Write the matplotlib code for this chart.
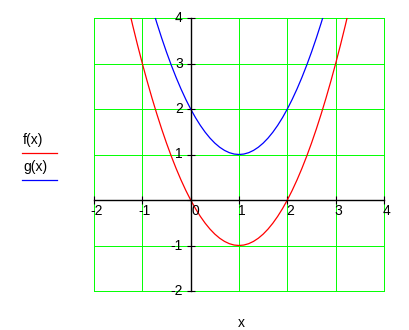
import matplotlib
matplotlib.use("Agg")
import matplotlib.pyplot as plt
from matplotlib.transforms import offset_copy

plt.rcParams['font.family'] = ['Liberation Sans', 'DejaVu Sans']
plt.rcParams['axes.unicode_minus'] = False

# sampled values of f(x)
xf = [-1.3, -1.2, -1.1, -1.0, -0.9, -0.8, -0.7, -0.6, -0.5, -0.4, -0.3, -0.2, -0.1,
      0.0, 0.1, 0.2, 0.3, 0.4, 0.5, 0.6, 0.7, 0.8, 0.9, 1.0, 1.1, 1.2, 1.3, 1.4,
      1.5, 1.6, 1.7, 1.8, 1.9, 2.0, 2.1, 2.2, 2.3, 2.4, 2.5, 2.6, 2.7, 2.8, 2.9,
      3.0, 3.1, 3.2, 3.3]
yf = [4.29, 3.84, 3.41, 3.0, 2.61, 2.24, 1.89, 1.56, 1.25, 0.96, 0.69, 0.44, 0.21,
      0.0, -0.19, -0.36, -0.51, -0.64, -0.75, -0.84, -0.91, -0.96, -0.99, -1.0,
      -0.99, -0.96, -0.91, -0.84, -0.75, -0.64, -0.51, -0.36, -0.19, 0.0, 0.21,
      0.44, 0.69, 0.96, 1.25, 1.56, 1.89, 2.24, 2.61, 3.0, 3.41, 3.84, 4.29]

# sampled values of g(x)
xg = [-0.8, -0.7, -0.6, -0.5, -0.4, -0.3, -0.2, -0.1, 0.0, 0.1, 0.2, 0.3, 0.4,
      0.5, 0.6, 0.7, 0.8, 0.9, 1.0, 1.1, 1.2, 1.3, 1.4, 1.5, 1.6, 1.7, 1.8, 1.9,
      2.0, 2.1, 2.2, 2.3, 2.4, 2.5, 2.6, 2.7, 2.8]
yg = [4.24, 3.89, 3.56, 3.25, 2.96, 2.69, 2.44, 2.21, 2.0, 1.81, 1.64, 1.49, 1.36,
      1.25, 1.16, 1.09, 1.04, 1.01, 1.0, 1.01, 1.04, 1.09, 1.16, 1.25, 1.36, 1.49,
      1.64, 1.81, 2.0, 2.21, 2.44, 2.69, 2.96, 3.25, 3.56, 3.89, 4.24]

xticks = [-2, -1, 0, 1, 2, 3, 4]
yticks = [-2, -1, 1, 2, 3, 4]

fig = plt.figure(figsize=(4.1, 3.3), dpi=100)
ax = fig.add_axes([94 / 410, 1 - 291 / 330, 290 / 410, 273 / 330])
ax.set_xlim(-2, 4)
ax.set_ylim(-2, 4)

green = '#00ff00'
for v in range(-2, 5):
    ax.axvline(v, color=green, lw=0.7, clip_on=False, zorder=1)
    ax.axhline(v, color=green, lw=0.7, clip_on=False, zorder=1)

for s in ['top', 'right']:
    ax.spines[s].set_visible(False)
ax.spines['left'].set_position(('data', 0))
ax.spines['bottom'].set_position(('data', 0))
ax.spines['left'].set_zorder(3)
ax.spines['bottom'].set_zorder(3)
ax.spines['left'].set_linewidth(1.0)
ax.spines['bottom'].set_linewidth(1.0)
ax.set_xticks(xticks)
ax.set_yticks([-2, -1, 0, 1, 2, 3, 4])
ax.set_xticklabels([])
ax.set_yticklabels([])
ax.tick_params(direction='inout', length=6, width=0.8, color='black')

ax.plot(xf, yf, color='#ff0000', lw=0.9, zorder=2)
ax.plot(xg, yg, color='#0000ff', lw=0.9, zorder=2)

fs = 10
for v in xticks:
    dx = 5 if v == 0 else 2.5
    tr = offset_copy(ax.transData, fig=fig, x=dx, y=-4, units='dots')
    ax.text(v, 0, str(v), transform=tr, ha='center', va='top', fontsize=fs)
for v in yticks:
    tr = offset_copy(ax.transData, fig=fig, x=-8, y=0, units='dots')
    ax.text(0, v, str(v), transform=tr, ha='right', va='center', fontsize=fs)

# legend drawn beside the plot
fig.text(23 / 410, 1 - 140 / 330, 'f(x)', fontsize=fs, ha='left', va='center')
fig.text(23 / 410, 1 - 167 / 330, 'g(x)', fontsize=fs, ha='left', va='center')
fig.add_artist(plt.Line2D([22 / 410, 57 / 410], [1 - 153 / 330] * 2, color='#ff0000', lw=0.9))
fig.add_artist(plt.Line2D([22 / 410, 57 / 410], [1 - 180 / 330] * 2, color='#0000ff', lw=0.9))

fig.text(241 / 410, 1 - 323 / 330, 'x', fontsize=fs, ha='center', va='center')

fig.savefig('out.png', dpi=100)
